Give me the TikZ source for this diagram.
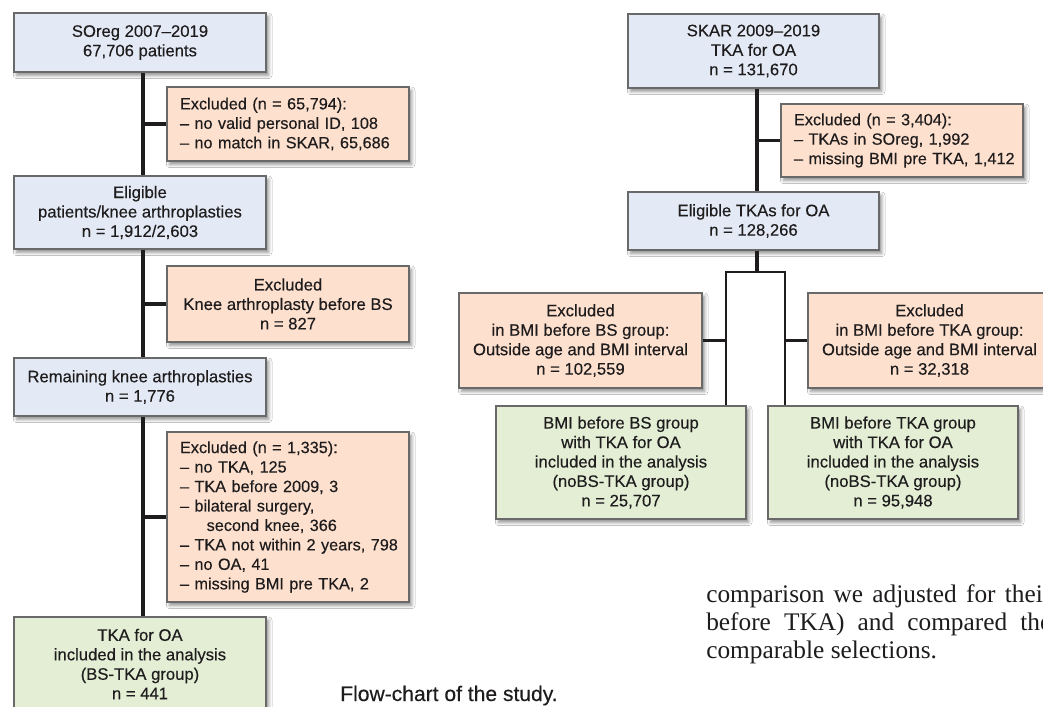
\documentclass[tikz,border=0pt]{standalone}
\usepackage{fontspec}
\setmainfont{Liberation Sans}
\newfontfamily\boxfont{Liberation Sans}[FakeBold=0.3]
\newfontfamily\serifbody{Liberation Serif}
\usetikzlibrary{shadows.blur,calc}
\definecolor{bluefill}{RGB}{228,234,245}
\definecolor{exfill}{RGB}{253,224,206}
\definecolor{grnfill}{RGB}{227,238,213}
\definecolor{boxline}{RGB}{105,105,105}
\definecolor{txt}{RGB}{30,28,29}
\newcommand{\myline}[1]{\mbox{#1}}
\begin{document}
\begin{tikzpicture}[x=0.75pt,y=-0.75pt,
  box/.style={draw=boxline, line width=0.8pt, inner sep=0pt, text=txt,
    font=\boxfont\fontsize{12.5}{14.6}\selectfont, align=center,
    blur shadow={shadow xshift=2pt, shadow yshift=-2.5pt, shadow blur radius=2.5pt, shadow opacity=45}},
  wide/.style={box, minimum width=189pt},
  exbox/.style={box, fill=exfill, minimum width=181.5pt},
  exlist/.style={box, fill=exfill, align=left, text width=162pt, inner xsep=9.75pt, font=\boxfont\fontsize{12.2}{14.6}\selectfont},
  bluebox/.style={wide, fill=bluefill},
  grnbox/.style={box, fill=grnfill, minimum width=187.5pt},
  conn/.style={draw=txt, line width=2.4pt},
  brk/.style={draw=txt, line width=1.8pt, line join=miter}
]
\useasboundingbox (0,0) rectangle (1043,707);
\clip (0,0) rectangle (1043,707);
\fill[white] (0,0) rectangle (1043,707);

% left column
\node[bluebox, minimum height=44.25pt] (soreg) at (140,42.5) {SOreg 2007–2019\\67,706 patients};
\node[exlist, minimum height=55.5pt] (ex1) at (288,124) {\myline{Excluded (n = 65,794):}\\\myline{– no valid personal ID, 108}\\\myline{– no match in SKAR, 65,686}};
\node[bluebox, minimum height=54.75pt] (elig) at (140,212.5) {Eligible\\patients/knee arthroplasties\\n = 1,912/2,603};
\node[exbox, minimum height=57pt] (ex2) at (288,304) {Excluded\\Knee arthroplasty before BS\\n = 827};
\node[bluebox, minimum height=43.5pt] (rem) at (140,387) {Remaining knee arthroplasties\\n = 1,776};
\node[exlist, minimum height=127.5pt] (ex3) at (288,517) {\myline{Excluded (n = 1,335):}\\\myline{– no TKA, 125}\\\myline{– TKA before 2009, 3}\\\myline{– bilateral surgery,}\\\myline{\hspace*{20pt}second knee, 366}\\\myline{– TKA not within 2 years, 798}\\\myline{– no OA, 41}\\\myline{– missing BMI pre TKA, 2}};
\node[grnbox, minimum width=189pt, minimum height=70.5pt] (tka) at (140,664) {TKA for OA\\included in the analysis\\(BS-TKA group)\\n = 441};

\coordinate (sp) at (143,0);
\draw[conn] (soreg.south -| sp) -- (elig.north -| sp);
\draw[conn] (elig.south -| sp) -- (rem.north -| sp);
\draw[conn] (rem.south -| sp) -- (tka.north -| sp);
\draw[conn] (ex1.west -| sp) -- (ex1.west);
\draw[conn] (ex2.west -| sp) -- (ex2.west);
\draw[conn] (ex3.west -| sp) -- (ex3.west);

% right column
\node[box, fill=bluefill, minimum width=188.25pt, minimum height=55.5pt] (skar) at (753.5,51) {SKAR 2009–2019\\TKA for OA\\n = 131,670};
\node[exlist, minimum height=54.75pt] (ex4) at (902,140.5) {\myline{Excluded (n = 3,404):}\\\myline{– TKAs in SOreg, 1,992}\\\myline{– missing BMI pre TKA, 1,412}};
\node[box, fill=bluefill, minimum width=188.25pt, minimum height=43.5pt] (elig2) at (753.5,221) {Eligible TKAs for OA\\n = 128,266};
\node[box, fill=exfill, minimum width=182.25pt, minimum height=71.25pt] (ex5) at (580.5,340.5) {Excluded\\in BMI before BS group:\\Outside age and BMI interval\\n = 102,559};
\node[box, fill=exfill, minimum width=182.25pt, minimum height=71.25pt] (ex6) at (929.5,340.5) {Excluded\\in BMI before TKA group:\\Outside age and BMI interval\\n = 32,318};
\node[grnbox, minimum height=84.75pt] (g1) at (621,462.5) {BMI before BS group\\with TKA for OA\\included in the analysis\\(noBS-TKA group)\\n = 25,707};
\node[grnbox, minimum height=84.75pt] (g2) at (893,462.5) {BMI before TKA group\\with TKA for OA\\included in the analysis\\(noBS-TKA group)\\n = 95,948};

\coordinate (rsp) at (757,0);
\coordinate (br) at (757,272);
\coordinate (bl) at (726,272);
\coordinate (brr) at (785,272);
\draw[conn] (skar.south -| rsp) -- (elig2.north -| rsp);
\draw[conn] (ex4.west -| rsp) -- (ex4.west);
\draw[conn] (elig2.south -| rsp) -- (br);
\draw[brk] (g1.north -| bl) -- (bl) -- (brr) -- (g2.north -| brr);
\draw[brk] (ex5.east) -- (ex5.east -| bl);
\draw[brk] (ex6.west) -- (ex6.west -| brr);

% caption and body text
\node[anchor=base west, inner sep=0pt, text=txt, font=\boxfont\fontsize{15.8}{18}\selectfont] (cap) at (340,701) {Flow-chart of the study.};
\node[anchor=base west, inner sep=0pt, text=txt, font=\serifbody\fontsize{19}{21}\selectfont] (b1) at (706,602) {\makebox[258.75pt][s]{comparison we adjusted for their}};
\node[anchor=base west, inner sep=0pt, text=txt, font=\serifbody\fontsize{19}{21}\selectfont] (b2) at (706,630) {\makebox[258.75pt][s]{before TKA) and compared the}};
\node[anchor=base west, inner sep=0pt, text=txt, font=\serifbody\fontsize{19}{21}\selectfont] (b3) at (706,658) {comparable selections.};
\end{tikzpicture}
\end{document}
